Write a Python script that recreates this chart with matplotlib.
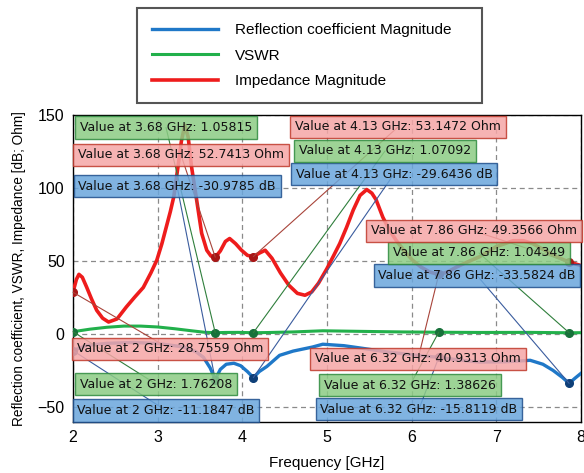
import matplotlib.pyplot as plt

# reflection coefficient magnitude [dB]
freq_s11 = [2.0, 2.16, 2.4, 2.71, 3.0, 3.3, 3.45, 3.54, 3.62, 3.68, 3.74, 3.81, 3.9, 3.98,
            4.06, 4.13, 4.2, 4.29, 4.44, 4.6, 4.83, 4.95, 5.2, 5.42, 5.7, 6.0, 6.32, 6.55,
            6.8, 7.1, 7.4, 7.55, 7.67, 7.78, 7.86, 7.93, 8.0]
s11_db = [-11.18, -7.6, -6.2, -5.6, -6.3, -8.6, -11.8, -15.7, -23.0, -30.98, -24.0, -20.5, -19.8, -21.5,
          -25.5, -29.64, -25.5, -22.0, -14.4, -11.5, -8.7, -6.8, -7.8, -9.6, -12.0, -14.0, -15.81, -17.5,
          -19.0, -18.8, -17.8, -20.5, -24.7, -29.5, -33.58, -30.0, -26.7]

# VSWR
freq_vswr = [2.0, 2.2, 2.4, 2.6, 2.8, 3.0, 3.2, 3.4, 3.55, 3.68, 3.8, 3.95, 4.13, 4.3, 4.6,
             4.95, 5.4, 5.9, 6.32, 6.8, 7.4, 7.86, 8.0]
vswr = [1.76, 3.5, 4.8, 5.6, 5.6, 5.0, 3.8, 2.4, 1.4, 1.06, 1.25, 1.3, 1.07, 1.2, 1.6,
        2.4, 2.0, 1.6, 1.39, 1.25, 1.3, 1.04, 1.1]

# impedance magnitude [Ohm]
freq_z = [2.0, 2.04, 2.07, 2.11, 2.16, 2.22, 2.28, 2.35, 2.42, 2.52, 2.63, 2.73, 2.83, 2.92,
          2.99, 3.05, 3.1, 3.15, 3.19, 3.24, 3.28, 3.32, 3.36, 3.4, 3.46, 3.52, 3.58, 3.63,
          3.68, 3.74, 3.8, 3.85, 3.92, 3.99, 4.06, 4.13, 4.2, 4.27, 4.35, 4.45, 4.55, 4.65,
          4.74, 4.82, 4.9, 5.0, 5.08, 5.15, 5.23, 5.31, 5.39, 5.47, 5.53, 5.58, 5.62, 5.66,
          5.74, 5.82, 5.92, 6.01, 6.11, 6.21, 6.32, 6.42, 6.53, 6.66, 6.8, 7.0, 7.2, 7.32,
          7.43, 7.57, 7.71, 7.86, 8.0]
z_mag = [28.8, 37.5, 41.0, 39.0, 32.4, 24.0, 16.4, 11.0, 8.4, 10.5, 18.7, 25.5, 32.0, 42.0,
         50.7, 62.0, 73.0, 84.0, 94.0, 114.6, 132.0, 143.0, 135.0, 114.6, 92.0, 69.0, 57.5, 53.5,
         52.7, 57.0, 63.5, 65.5, 62.0, 57.5, 54.0, 53.1, 55.5, 57.5, 52.0, 42.0, 33.5, 28.0,
         26.7, 29.0, 35.0, 45.0, 54.0, 62.0, 73.0, 85.0, 95.0, 99.0, 96.5, 92.0, 86.0, 80.0,
         71.0, 64.0, 56.5, 50.7, 46.0, 42.7, 40.9, 42.5, 46.0, 49.5, 53.0, 60.0, 64.0, 64.0,
         62.0, 57.5, 53.0, 49.4, 47.0]

# data cursors
marker_freq = [2.0, 3.68, 4.13, 6.32, 7.86]
marker_s11 = [-11.1847, -30.9785, -29.6436, -15.8119, -33.5824]
marker_vswr = [1.76208, 1.05815, 1.07092, 1.38626, 1.04349]
marker_z = [28.7559, 52.7413, 53.1472, 40.9313, 49.3566]

# label centres in figure pixels (layout only)
pos_z = [(170, 349), (181, 155), (398, 127), (418, 359), (474, 231)]
pos_vswr = [(156, 384), (166, 127.5), (385, 151), (410, 385), (479, 253)]
pos_s11 = [(166, 410.5), (177, 186), (394, 174), (419, 409), (477, 275.5)]

W, H = 584, 473
AX_L, AX_R, AX_T, AX_B = 73, 581, 115, 422

c_blue = '#1f78c8'
c_green = '#22b04b'
c_red = '#ee1c1c'

fig = plt.figure(figsize=(W / 100, H / 100), dpi=100)
ax = fig.add_axes([AX_L / W, 1 - AX_B / H, (AX_R - AX_L) / W, (AX_B - AX_T) / H])

l1, = ax.plot(freq_s11, s11_db, color=c_blue, lw=2.4, zorder=3,
              solid_joinstyle='round', label='Reflection coefficient Magnitude')
l2, = ax.plot(freq_vswr, vswr, color=c_green, lw=2.2, zorder=3,
              solid_joinstyle='round', label='VSWR')
l3, = ax.plot(freq_z, z_mag, color=c_red, lw=2.6, zorder=3,
              solid_joinstyle='round', label='Impedance Magnitude')

ax.set_xlim(2, 8)
ax.set_ylim(-60, 150)
ax.set_xticks([2, 3, 4, 5, 6, 7, 8])
ax.set_yticks([-50, 0, 50, 100, 150])
ax.grid(True, color='#8a8a8a', linestyle=(0, (4, 3)), lw=0.9)
ax.tick_params(length=0, labelsize=11.5, pad=6)
for t in ax.get_xticklabels() + ax.get_yticklabels():
    t.set_fontfamily('Liberation Sans')
for s in ax.spines.values():
    s.set_color('black')
    s.set_linewidth(1.0)

ax.set_xlabel('Frequency [GHz]', fontfamily='Liberation Sans', fontsize=11, labelpad=8)
ax.set_ylabel('Reflection coefficient, VSWR, Impedance [dB; Ohm]',
              fontfamily='Liberation Sans', fontsize=9.8, labelpad=8)


def to_axes(p):
    return ((p[0] - AX_L) / (AX_R - AX_L), (AX_B - p[1]) / (AX_B - AX_T))


series = [
    (marker_s11, pos_s11, '{:g} dB', '#0e3f78', '#3a5c9e', '#6aa6dc', '#1f4f8c'),
    (marker_vswr, pos_vswr, '{:g}', '#17713a', '#2f7f3c', '#8ccc84', '#2e8b3e'),
    (marker_z, pos_z, '{:g} Ohm', '#a81616', '#a8443a', '#f5a6a6', '#c0392b'),
]

# leaders first, beneath every label
for vals, poss, fmt, mc, lc, fc, ec in series:
    ax.plot(marker_freq, vals, 'o', color=mc, ms=5.5, zorder=4)
    for f, v, p in zip(marker_freq, vals, poss):
        ax.annotate('', xy=(f, v), xytext=to_axes(p), textcoords='axes fraction',
                    arrowprops=dict(arrowstyle='-', color=lc, lw=0.8,
                                    shrinkA=0, shrinkB=0, patchA=None),
                    zorder=5, annotation_clip=False)

for vals, poss, fmt, mc, lc, fc, ec in series:
    for f, v, p in zip(marker_freq, vals, poss):
        txt = 'Value at {:g} GHz: '.format(f) + fmt.format(v)
        ax.text(*to_axes(p), txt, transform=ax.transAxes, ha='center', va='center',
                fontsize=9, fontfamily='DejaVu Sans', color='#111111', zorder=6,
                bbox=dict(boxstyle='square,pad=0.38', fc=fc, ec=ec, lw=1.0, alpha=0.85))

fig.legend(handles=[l1, l2, l3], loc='upper left',
           bbox_to_anchor=(137 / W, 1 - 100 / H, (482 - 137) / W, 92 / H),
           mode='expand', borderaxespad=0, fancybox=False, framealpha=1,
           edgecolor='#555555', prop={'family': 'Liberation Sans', 'size': 11},
           handlelength=4.3, handletextpad=1.1, labelspacing=0.75, borderpad=1.0)
fig.legends[0].get_frame().set_linewidth(1.5)

fig.savefig('out.png', dpi=100)
